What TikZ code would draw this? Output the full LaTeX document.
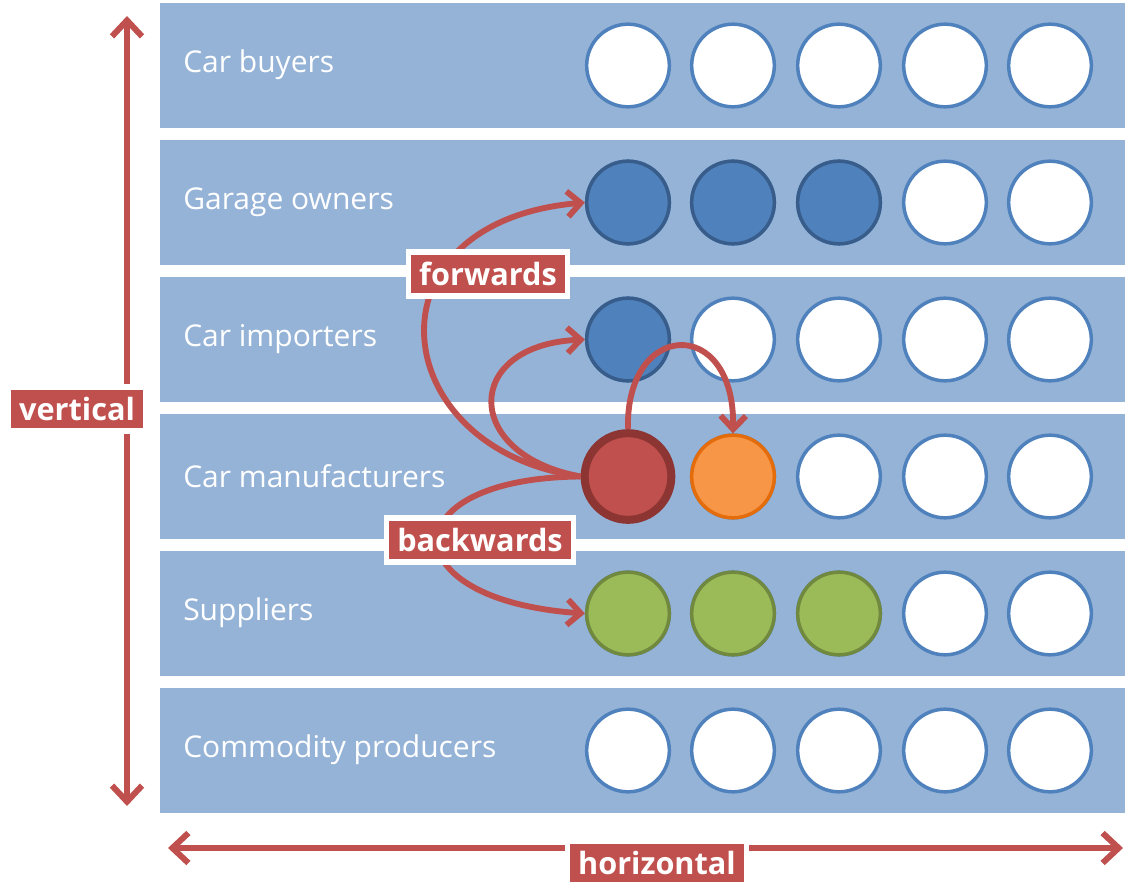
\documentclass[tikz,border=0pt]{standalone}
\usepackage{fontspec}
\setmainfont{Open Sans}
\usetikzlibrary{arrows.meta,shadows}
\definecolor{bandblue}{HTML}{95B3D7}
\definecolor{cblue}{HTML}{4F81BD}
\definecolor{cbluedark}{HTML}{385D8A}
\definecolor{cred}{HTML}{C0504D}
\definecolor{creddark}{HTML}{8C3533}
\definecolor{corange}{HTML}{F79646}
\definecolor{corangedark}{HTML}{E46C0A}
\definecolor{cgreen}{HTML}{9BBB59}
\definecolor{cgreendark}{HTML}{71893F}
\tikzset{
  band/.style={fill=bandblue,draw=none,inner sep=0pt,outer sep=0pt,minimum width=723.75pt,minimum height=93.75pt,anchor=north west},
  bandtext/.style={text=white,anchor=west,font=\fontsize{22.5}{26}\selectfont,inner sep=0pt},
  disc/.style={circle,inner sep=0pt,minimum size=62pt,line width=2.6pt,draw=cblue,fill=white},
  bluedisc/.style={disc,draw=cbluedark,fill=cblue},
  reddisc/.style={disc,minimum size=65pt,line width=6pt,draw=creddark,fill=cred},
  orangedisc/.style={disc,draw=corangedark,fill=corange},
  greendisc/.style={disc,draw=cgreendark,fill=cgreen},
  tag/.style={fill=cred,draw=white,line width=4.2pt,text=white,font=\fontsize{23}{26}\selectfont\bfseries,inner xsep=8pt,inner ysep=7.5pt,
    drop shadow={shadow xshift=1.3pt,shadow yshift=-1.3pt,opacity=0.5,fill=black}},
  bigarrow/.style={draw=cred,line width=4.5pt,{Straight Barb[length=12pt,width=22.5pt]}-{Straight Barb[length=12pt,width=22.5pt]}},
  flow/.style={draw=cred,line width=4.4pt,-{Straight Barb[length=10pt,width=19pt]}}
}
\begin{document}
\begin{tikzpicture}[x=0.75pt,y=-0.75pt]
\useasboundingbox (0,0) rectangle (1125,892);
% bands
\foreach \i/\t in {1/Car buyers,2/Garage owners,3/Car importers,4/Car manufacturers,5/Suppliers,6/Commodity producers}{
  \pgfmathsetmacro{\top}{3+137*(\i-1)}
  \node[band] (band\i) at (160,\top) {};
  \node[bandtext] (lab\i) at (183,\top+62) {\t};
}
% circles
\foreach \r in {1,...,6}{
  \foreach \c/\x in {1/628,2/733,3/839,4/945,5/1050}{
    \pgfmathsetmacro{\yy}{3+137*(\r-1)+62.5}
    \node[disc] (r\r c\c) at (\x,\yy) {};
  }
}
% coloured circles
\node[bluedisc] (r2c1) at (628,202.5) {};
\node[bluedisc] (r2c2) at (733,202.5) {};
\node[bluedisc] (r2c3) at (839,202.5) {};
\node[bluedisc] (r3c1) at (628,339.5) {};
\node[reddisc] (r4c1) at (628,476.5) {};
\node[orangedisc] (r4c2) at (733,476.5) {};
\node[greendisc] (r5c1) at (628,613.5) {};
\node[greendisc] (r5c2) at (733,613.5) {};
\node[greendisc] (r5c3) at (839,613.5) {};
% curved arrows
\draw[flow] (r4c1.west) .. controls (385,450) and (360,222) .. (r2c1.west);
\draw[flow] (r4c1.west) .. controls (462,455) and (462,345) .. (r3c1.west);
\draw[flow] (r4c1.north) .. controls (625,320) and (735,315) .. (r4c2.north);
\draw[flow] (r4c1.west) .. controls (390,478) and (390,600) .. (r5c1.west);
% labels
\node[tag] (fwd) at (488,274) {forwards};
\node[tag] (bwd) at (480,540) {backwards};
% axes
\coordinate (vtop) at (127,16);
\coordinate (vbot) at (127,806);
\coordinate (hleft) at (168,848);
\coordinate (hright) at (1123,848);
\draw[bigarrow] (vbot) -- (vtop);
\draw[bigarrow] (hleft) -- (hright);
\node[tag] (vert) at (77,409) {vertical};
\node[tag] (horiz) at (657,863) {horizontal};
\end{tikzpicture}
\end{document}
